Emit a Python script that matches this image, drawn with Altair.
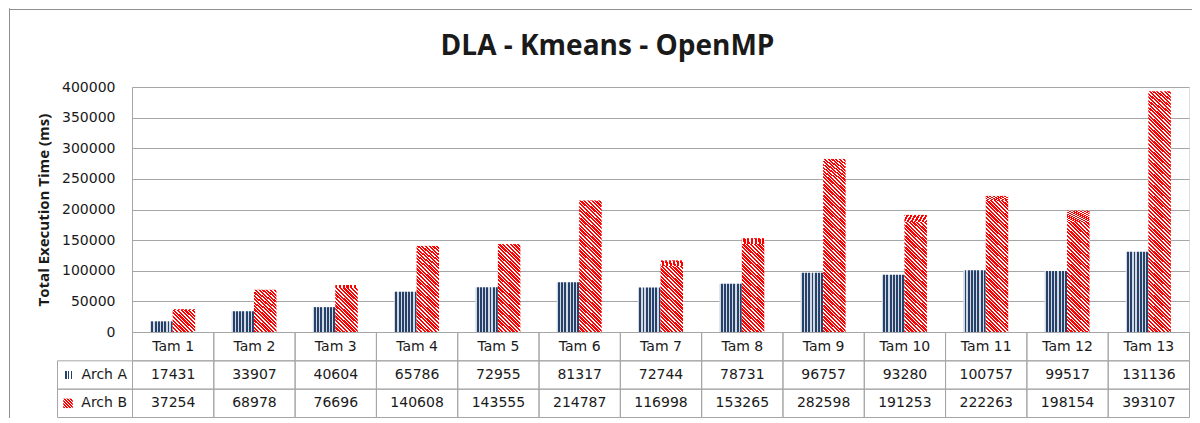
import math
import altair as alt
import pandas as pd

# ---------------- data ----------------
categories = ["Tam 1", "Tam 2", "Tam 3", "Tam 4", "Tam 5", "Tam 6", "Tam 7",
              "Tam 8", "Tam 9", "Tam 10", "Tam 11", "Tam 12", "Tam 13"]
series = ["Arch A", "Arch B"]
arch_a = [17431, 33907, 40604, 65786, 72955, 81317, 72744, 78731, 96757,
          93280, 100757, 99517, 131136]
arch_b = [37254, 68978, 76696, 140608, 143555, 214787, 116998, 153265, 282598,
          191253, 222263, 198154, 393107]
y_ticks = [0, 50000, 100000, 150000, 200000, 250000, 300000, 350000, 400000]
title_text = "DLA - Kmeans - OpenMP"
y_title = "Total Execution Time (ms)"

# ---------------- layout / style ----------------
PLOT_W = 1057
PLOT_H = 245
TABLE_H = 85
HDR_W = 75
Y_MAX = 400000
PAD_IN = 0.447
PIECE_PX = 22  # height of one hatch tile of the Arch B bars, in pixels

GRID = "#a6a6a6"
FRAME = "#8e8e8e"
TXT = "#1a1a1a"
NAVY = "#26426b"
NAVY_LIGHT = "#d3d9e4"
RED = "#ff0000"
WHITE = "#ffffff"
FONT = "DejaVu Sans"


def stripes(c1, c2, n, duty, x1, y1, x2, y2):
    stops = []
    for i in range(n):
        a, b, c = i / n, (i + duty) / n, (i + 1) / n
        stops += [{"offset": a, "color": c1}, {"offset": b, "color": c1},
                  {"offset": b, "color": c2}, {"offset": c, "color": c2}]
    return {"gradient": "linear", "x1": x1, "y1": y1, "x2": x2, "y2": y2,
            "stops": stops}


fill_a = stripes(NAVY_LIGHT, NAVY, 7, 0.4, 0, 0, 1, 0)
fill_b = stripes(RED, WHITE, 12, 0.6, 0, 1, 1, 0)
swatch_a = stripes(WHITE, NAVY, 3, 0.45, 0, 0, 1, 0)
swatch_b = stripes(RED, WHITE, 6, 0.6, 0, 1, 1, 0)

# Arch B bars are drawn as stacked tiles of whole-pixel height so the
# diagonal hatch keeps a constant angle and the tiles meet without seams.
piece = Y_MAX * PIECE_PX / PLOT_H

df_a = pd.DataFrame({"cat": categories, "series": "Arch A",
                     "y0": [0] * len(arch_a), "y1": arch_a})
rows_b = []
for c, v in zip(categories, arch_b):
    n_full = int(v // piece)
    for i in range(n_full):
        rows_b.append({"cat": c, "series": "Arch B", "y0": i * piece, "y1": (i + 1) * piece})
    if v - n_full * piece > 0:
        rows_b.append({"cat": c, "series": "Arch B", "y0": n_full * piece, "y1": v})
df_b = pd.DataFrame(rows_b)

row_keys = ["cat", "Arch A", "Arch B"]
table_rows = []
for c, a, b in zip(categories, arch_a, arch_b):
    table_rows.append({"cat": c, "row": "cat", "label": c})
    table_rows.append({"cat": c, "row": "Arch A", "label": str(a)})
    table_rows.append({"cat": c, "row": "Arch B", "label": str(b)})
df_table = pd.DataFrame(table_rows)
df_hdr = pd.DataFrame({"col": ["hdr", "hdr"], "row": series})

# ---------------- scales ----------------
x_bar = alt.Scale(domain=categories, paddingInner=PAD_IN, paddingOuter=PAD_IN / 2)
x_off = alt.Scale(domain=series, paddingInner=0, paddingOuter=0)
y_bar = alt.Scale(domain=[0, Y_MAX], nice=False, zero=True)
x_tab = alt.Scale(domain=categories, paddingInner=0, paddingOuter=0,
                  range=[0.5, PLOT_W + 0.5])
y_tab = alt.Scale(domain=row_keys, paddingInner=0, paddingOuter=0,
                  range=[PLOT_H + 0.5, PLOT_H + TABLE_H + 0.5])
x_hdr = alt.Scale(domain=["hdr"], paddingInner=0, paddingOuter=0,
                  range=[-HDR_W + 0.5, 0.5])

y_axis = alt.Axis(values=y_ticks, format="d", title=y_title, grid=True,
                  gridColor=GRID, domainColor=GRID, ticks=False, tickSize=0,
                  labelPadding=17, labelFont=FONT, labelFontSize=14,
                  labelColor=TXT, titleFont="Open Sans", titleFontSize=15,
                  titleFontWeight="bold", titleColor=TXT, titlePadding=10)

bars_a = alt.Chart(df_a).mark_bar(fill=fill_a).encode(
    x=alt.X("cat:N", scale=x_bar, axis=None, sort=categories),
    xOffset=alt.XOffset("series:N", scale=x_off),
    y=alt.Y("y0:Q", scale=y_bar, axis=y_axis),
    y2="y1:Q",
)
bars_b = alt.Chart(df_b).mark_bar(fill=fill_b).encode(
    x=alt.X("cat:N", scale=x_bar, axis=None, sort=categories),
    xOffset=alt.XOffset("series:N", scale=x_off),
    y=alt.Y("y0:Q", scale=y_bar, axis=None),
    y2="y1:Q",
)

cells = alt.Chart(df_table).mark_rect(fill="transparent", stroke=GRID, strokeWidth=1).encode(
    x=alt.X("cat:N", scale=x_tab, axis=None),
    y=alt.Y("row:N", scale=y_tab, axis=None),
)
cell_text = alt.Chart(df_table).mark_text(font=FONT, fontSize=14, color=TXT,
                                          baseline="middle", align="center").encode(
    x=alt.X("cat:N", scale=x_tab, axis=None),
    y=alt.Y("row:N", scale=y_tab, axis=None),
    text="label:N",
)
hdr_cells = alt.Chart(df_hdr).mark_rect(fill="transparent", stroke=GRID, strokeWidth=1).encode(
    x=alt.X("col:N", scale=x_hdr, axis=None),
    y=alt.Y("row:N", scale=y_tab, axis=None),
)
hdr_text = alt.Chart(df_hdr).mark_text(font=FONT, fontSize=14, color=TXT,
                                       baseline="middle", align="right", dx=32).encode(
    x=alt.X("col:N", scale=x_hdr, axis=None),
    y=alt.Y("row:N", scale=y_tab, axis=None),
    text="row:N",
)
sw_a = alt.Chart(df_hdr[df_hdr["row"] == "Arch A"]).mark_point(
    shape="square", filled=True, size=64, fill=swatch_a, opacity=1, xOffset=-27).encode(
    x=alt.X("col:N", scale=x_hdr, axis=None),
    y=alt.Y("row:N", scale=y_tab, axis=None),
)
sw_b = alt.Chart(df_hdr[df_hdr["row"] == "Arch B"]).mark_point(
    shape="square", filled=True, size=90, fill=swatch_b, opacity=1, xOffset=-27).encode(
    x=alt.X("col:N", scale=x_hdr, axis=None),
    y=alt.Y("row:N", scale=y_tab, axis=None),
)

frame_left = alt.Chart(df_hdr).mark_rule(color=FRAME, strokeWidth=1).encode(
    x=alt.value(-122.5), y=alt.value(-78.5), y2=alt.value(340))
frame_top = alt.Chart(df_hdr).mark_rule(color=FRAME, strokeWidth=1).encode(
    x=alt.value(-122.5), x2=alt.value(1080), y=alt.value(-77.5))

chart = alt.layer(
    frame_left, frame_top, bars_a, bars_b, cells, cell_text, hdr_cells, hdr_text, sw_a, sw_b
).resolve_scale(
    x="independent", y="independent", xOffset="shared"
).properties(
    width=PLOT_W,
    height=PLOT_H,
    title=alt.Title(title_text, font="Open Sans", fontSize=28, fontWeight="bold",
                    color=TXT, anchor="middle", dx=-53, offset=-75, baseline="alphabetic"),
    padding={"left": 124, "top": 79, "right": 3, "bottom": 86},
    autosize=alt.AutoSizeParams(type="none"),
).configure_view(stroke=None).configure(background="white")

chart.save("out.html", embed_options={"renderer": "svg", "actions": False})
